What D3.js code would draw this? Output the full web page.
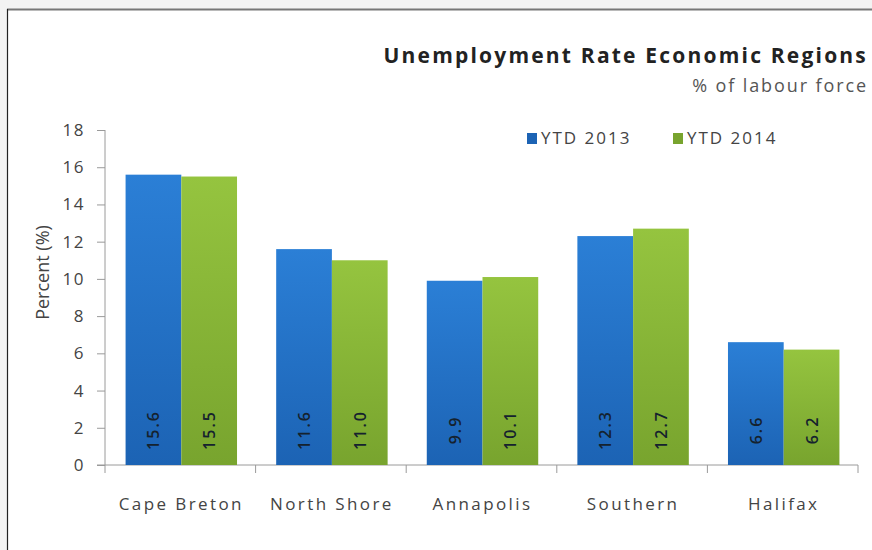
<!DOCTYPE html>
<html>
<head>
<meta charset="utf-8">
<script src="https://cdn.jsdelivr.net/npm/d3@7"></script>
<style>
  body { margin: 0; background: #f3f3f3; }
  svg { display: block; }
  text { font-family: "Open Sans", "Liberation Sans", sans-serif; }
</style>
</head>
<body>
<svg id="chart" width="872" height="550"></svg>
<script>
const regions = ["Cape Breton", "North Shore", "Annapolis", "Southern", "Halifax"];
const seriesNames = ["YTD 2013", "YTD 2014"];
const ytd2013 = [15.6, 11.6, 9.9, 12.3, 6.6];
const ytd2014 = [15.5, 11.0, 10.1, 12.7, 6.2];
const yTicks = [0, 2, 4, 6, 8, 10, 12, 14, 16, 18];

const width = 872, height = 550;
const margin = { left: 105, right: 14, top: 130, bottom: 85 };

const svg = d3.select('#chart');

// frame
svg.append('rect')
  .attr('x', 8).attr('y', 9)
  .attr('width', width).attr('height', height)
  .attr('fill', '#fff');
svg.append('line')
  .attr('x1', 7).attr('x2', width).attr('y1', 9.5).attr('y2', 9.5)
  .attr('stroke', '#777').attr('stroke-width', 2);
svg.append('line')
  .attr('x1', 7.5).attr('x2', 7.5).attr('y1', 9).attr('y2', height)
  .attr('stroke', '#222').attr('stroke-width', 1.2);

const defs = svg.append('defs');
const colors = [["#2b7fd6", "#1c63b4"], ["#95c43f", "#78a42e"]];
colors.forEach((c, i) => {
  const g = defs.append('linearGradient')
    .attr('id', 'grad' + i)
    .attr('x1', 0).attr('x2', 0).attr('y1', 0).attr('y2', 1);
  g.append('stop').attr('offset', '0%').attr('stop-color', c[0]);
  g.append('stop').attr('offset', '100%').attr('stop-color', c[1]);
});

const x = d3.scaleBand()
  .domain(regions)
  .range([margin.left, width - margin.right])
  .paddingInner(0)
  .paddingOuter(0);

const groupWidth = x.bandwidth() * 0.74;
const xs = d3.scaleBand()
  .domain(seriesNames)
  .range([(x.bandwidth() - groupWidth) / 2 + 1, (x.bandwidth() + groupWidth) / 2 + 1]);

const y = d3.scaleLinear()
  .domain([0, 18])
  .range([height - margin.bottom, margin.top]);

// y axis
const yAxis = svg.append('g')
  .attr('transform', `translate(${margin.left},0)`)
  .call(d3.axisLeft(y).tickValues(yTicks).tickSize(8).tickPadding(12));
yAxis.select('.domain').attr('stroke', '#9a9a9a').attr('d', `M0,${y(18)}V${y(0)}`);
yAxis.selectAll('.tick line').attr('stroke', '#9a9a9a');
yAxis.selectAll('.tick text')
  .attr('fill', '#444')
  .style('font-size', '17px')
  .style('letter-spacing', '1.5px');

// x axis
const xAxis = svg.append('g')
  .attr('transform', `translate(0,${y(0)})`);
xAxis.append('line')
  .attr('x1', margin.left - 8).attr('x2', width - margin.right)
  .attr('stroke', '#9a9a9a');
xAxis.selectAll('line.tk')
  .data(regions.concat(['end']))
  .join('line')
  .attr('class', 'tk')
  .attr('x1', (d, i) => i < regions.length ? x(d) : x(regions[regions.length - 1]) + x.bandwidth())
  .attr('x2', (d, i) => i < regions.length ? x(d) : x(regions[regions.length - 1]) + x.bandwidth())
  .attr('y1', 0).attr('y2', 8)
  .attr('stroke', '#9a9a9a');
xAxis.selectAll('text')
  .data(regions)
  .join('text')
  .attr('x', d => x(d) + x.bandwidth() / 2 + 1)
  .attr('y', 45)
  .attr('text-anchor', 'middle')
  .attr('fill', '#444')
  .style('font-size', '17px')
  .style('letter-spacing', '2.4px')
  .text(d => d);

// bars
const data = regions.map((r, i) => ({ region: r, values: [ytd2013[i], ytd2014[i]] }));
const groups = svg.selectAll('g.grp')
  .data(data)
  .join('g')
  .attr('class', 'grp')
  .attr('transform', d => `translate(${x(d.region)},0)`);

groups.selectAll('rect')
  .data(d => d.values.map((v, i) => ({ key: seriesNames[i], v, i })))
  .join('rect')
  .attr('x', d => xs(d.key))
  .attr('width', xs.bandwidth())
  .attr('y', d => y(d.v))
  .attr('height', d => y(0) - y(d.v))
  .attr('fill', d => `url(#grad${d.i})`);

groups.selectAll('text.val')
  .data(d => d.values.map((v, i) => ({ key: seriesNames[i], v, i })))
  .join('text')
  .attr('class', 'val')
  .attr('transform', d => `translate(${xs(d.key) + xs.bandwidth() / 2 + 6},${y(0) - 35}) rotate(-90)`)
  .attr('text-anchor', 'middle')
  .attr('fill', '#15222e')
  .style('font-size', '16px')
  .style('font-weight', '600')
  .style('letter-spacing', '2px')
  .text(d => d.v.toFixed(1));

// y label
svg.append('text')
  .attr('transform', `translate(49,${(y(0) + y(18)) / 2 - 25}) rotate(-90)`)
  .attr('text-anchor', 'middle')
  .attr('fill', '#444')
  .style('font-size', '18px')
  .text('Percent (%)');

// title
svg.append('text')
  .attr('x', 868).attr('y', 63)
  .attr('text-anchor', 'end')
  .attr('fill', '#222')
  .style('font-size', '21px')
  .style('font-weight', 'bold')
  .style('letter-spacing', '2.2px')
  .text('Unemployment Rate Economic Regions');
svg.append('text')
  .attr('x', 868).attr('y', 92)
  .attr('text-anchor', 'end')
  .attr('fill', '#555')
  .style('font-size', '18px')
  .style('letter-spacing', '1.9px')
  .text('% of labour force');

// legend
const legend = svg.append('g').attr('transform', 'translate(527,133)');
seriesNames.forEach((s, i) => {
  const lg = legend.append('g').attr('transform', `translate(${i * 146},0)`);
  lg.append('rect').attr('width', 10).attr('height', 11).attr('fill', colors[i][1]);
  lg.append('text').attr('x', 14).attr('y', 11)
    .attr('fill', '#444')
    .style('font-size', '17px')
    .style('letter-spacing', '2px')
    .text(s);
});
</script>
</body>
</html>
